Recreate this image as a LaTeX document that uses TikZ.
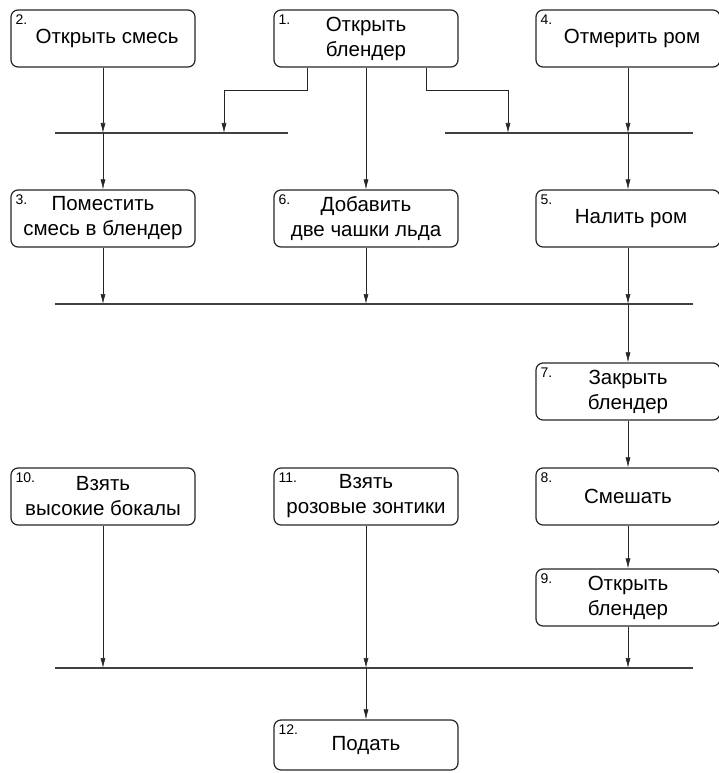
\documentclass[tikz,border=0pt]{standalone}
\usepackage{fontspec}
\setmainfont{Liberation Sans}
\usetikzlibrary{arrows.meta}
\tikzset{
  stepbox/.style={draw=black!85,line width=1.2pt,rounded corners=7pt,minimum width=184pt,
    minimum height=57pt,inner sep=0pt,align=center,font=\fontsize{20.5}{25}\selectfont},
  num/.style={anchor=north west,inner sep=0pt,font=\fontsize{14}{16}\selectfont},
  arr/.style={draw=black!85,line width=0.6pt,-{Latex[length=10pt,width=5pt]}},
  bar/.style={draw=black!75,line width=2.4pt}
}
\begin{document}
\begin{tikzpicture}[x=1pt,y=-1pt]
      \useasboundingbox (0,0) rectangle (719,773);
      % row 1
      \node[stepbox] (b2) at (103,38.5) {\hspace*{8pt}Открыть смесь};
      \node[stepbox] (b1) at (366,38.5) {Открыть\\блендер};
      \node[stepbox] (b4) at (628,38.5) {\hspace*{8pt}Отмерить ром};
      % bars
      \coordinate (barA-l) at (55,133);  \coordinate (barA-r) at (288,133);
      \coordinate (barB-l) at (445,133); \coordinate (barB-r) at (693,133);
      \coordinate (barC-l) at (55,304);  \coordinate (barC-r) at (693,304);
      \coordinate (barD-l) at (55,668);  \coordinate (barD-r) at (693,668);
      \coordinate (jl) at (224,133);
      \coordinate (jr) at (508,133);
      \draw[bar] (barA-l) -- (barA-r);
      \draw[bar] (barB-l) -- (barB-r);
      \draw[bar] (barC-l) -- (barC-r);
      \draw[bar] (barD-l) -- (barD-r);
      % row 2
      \node[stepbox] (b3) at (103,218.5) {Поместить\\смесь в блендер};
      \node[stepbox] (b6) at (366,218.5) {Добавить\\две чашки льда};
      \node[stepbox] (b5) at (628,218.5) {\hspace*{6pt}Налить ром};
      % right column
      \node[stepbox] (b7) at (628,391.5) {Закрыть\\блендер};
      \node[stepbox] (b10) at (103,496.5) {Взять\\высокие бокалы};
      \node[stepbox] (b11) at (366,496.5) {Взять\\розовые зонтики};
      \node[stepbox] (b8) at (628,496.5) {Смешать};
      \node[stepbox] (b9) at (628,597.5) {Открыть\\блендер};
      \node[stepbox,minimum height=50pt] (b12) at (366,745) {Подать};
      % numbers
      \foreach \b/\n in {b1/1.,b2/2.,b3/3.,b4/4.,b5/5.,b6/6.,b7/7.,b8/8.,b9/9.,b10/10.,b11/11.,b12/12.}
        \node[num] at ([shift={(5pt,-5pt)}]\b.north west) {\n};
      % arrows
      \draw[arr] (b2) -- (b2 |- barA-l);
      \draw[arr] (b2 |- barA-l) -- (b3);
      \draw[arr] ([xshift=-59pt]b1.south) -- ++(0,-23pt) -| (jl);
      \draw[arr] ([xshift=60pt]b1.south) -- ++(0,-23pt) -| (jr);
      \draw[arr] (b1) -- (b6);
      \draw[arr] (b4) -- (b4 |- barB-l);
      \draw[arr] (b4 |- barB-l) -- (b5);
      \draw[arr] (b3) -- (b3 |- barC-l);
      \draw[arr] (b6) -- (b6 |- barC-l);
      \draw[arr] (b5) -- (b5 |- barC-l);
      \draw[arr] (b5 |- barC-l) -- (b7);
      \draw[arr] (b7) -- (b8);
      \draw[arr] (b8) -- (b9);
      \draw[arr] (b10) -- (b10 |- barD-l);
      \draw[arr] (b11) -- (b11 |- barD-l);
      \draw[arr] (b9) -- (b9 |- barD-l);
      \draw[arr] (b11 |- barD-l) -- (b12);
\end{tikzpicture}
\end{document}
